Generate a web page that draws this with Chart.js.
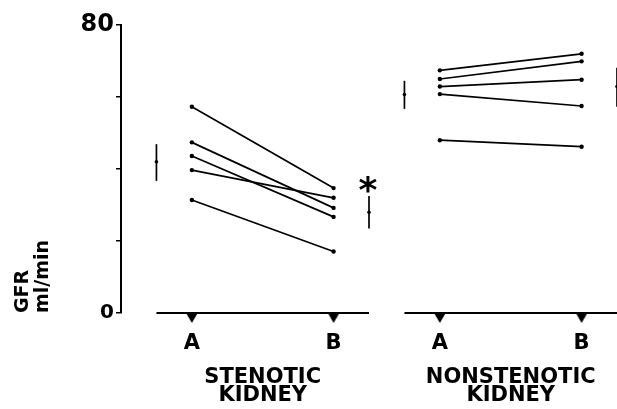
<!DOCTYPE html>
<html><head><meta charset="utf-8">
<script src="https://cdn.jsdelivr.net/npm/chart.js@4.4.1/dist/chart.umd.min.js"></script>
<style>html,body{margin:0;padding:0;background:#fff;} #wrap{width:617px;height:409px;}</style>
</head><body><div id="wrap"><canvas id="c" width="617" height="409"></canvas></div>
<script>
// ---- data (GFR, ml/min) ----
const periodLabels = ['A', 'B'];
const kidneyLabels = [['STENOTIC', 'KIDNEY'], ['NONSTENOTIC', 'KIDNEY']];
const yTickLabels = [0, 80];
const yAxisTitle = ['GFR', 'ml/min'];

const stenoticA = [57.3, 47.4, 43.6, 39.7, 31.4];
const stenoticB = [34.7, 29.2, 26.7, 32.0, 17.1];
const nonstenoticA = [67.4, 65.0, 62.9, 60.8, 48.0];
const nonstenoticB = [72.0, 69.9, 64.8, 57.5, 46.2];

// mean ± SE for period A and period B
const stenoticMean = [42.0, 28.0];
const stenoticLow = [36.7, 23.5];
const stenoticHigh = [46.9, 32.5];
const nonstenoticMean = [60.7, 62.9];
const nonstenoticLow = [56.7, 57.3];
const nonstenoticHigh = [64.5, 68.1];

const significance = ['*', '']; // marker beside period B mean, per kidney

// ---- layout (horizontal slots on a linear x scale) ----
const groups = [
  {a: stenoticA, b: stenoticB, mean: stenoticMean, low: stenoticLow, high: stenoticHigh, mA: 0, A: 1, B: 5, mB: 6, mid: 3},
  {a: nonstenoticA, b: nonstenoticB, mean: nonstenoticMean, low: nonstenoticLow, high: nonstenoticHigh, mA: 7, A: 8, B: 12, mB: 13, mid: 10}
];
const black = '#000';

function makeTriangle() {
  const c = document.createElement('canvas');
  const w = 14, h = 24;
  c.width = w; c.height = h;
  const g = c.getContext('2d');
  g.fillStyle = black;
  g.beginPath();
  g.moveTo(w / 2 - 5.8, h / 2);
  g.lineTo(w / 2 + 5.8, h / 2);
  g.lineTo(w / 2, h / 2 + 10);
  g.closePath();
  g.fill();
  return c;
}
const tri = makeTriangle();

const datasets = [];
const periodTicks = [];
const kidneyTicks = [];
groups.forEach((gr) => {
  datasets.push({data: [{x: gr.mA, y: 0}, {x: gr.mB, y: 0}], borderColor: black, borderWidth: 1.8, pointRadius: 0, clip: false});
  datasets.push({data: [{x: gr.A, y: 0}, {x: gr.B, y: 0}], showLine: false, pointStyle: tri, pointRadius: 7, clip: false});
  gr.a.forEach((v, i) => {
    datasets.push({data: [{x: gr.A, y: v}, {x: gr.B, y: gr.b[i]}], borderColor: black, borderWidth: 1.7,
      pointRadius: 2.2, pointBackgroundColor: black, pointBorderWidth: 0, clip: false});
  });
  [gr.mA, gr.mB].forEach((xp, k) => {
    datasets.push({data: [{x: xp, y: gr.low[k]}, {x: xp, y: gr.high[k]}], borderColor: black, borderWidth: 1.7, pointRadius: 0, clip: false});
    datasets.push({data: [{x: xp, y: gr.mean[k]}], showLine: false, pointRadius: 1.8, pointBackgroundColor: black, pointBorderWidth: 0, clip: false});
  });
  periodTicks.push({value: gr.A, label: periodLabels[0]}, {value: gr.B, label: periodLabels[1]});
  kidneyTicks.push({value: gr.mid});
});
datasets.forEach(d => { d.type = 'line'; d.xAxisID = 'x'; d.yAxisID = 'y'; });

const sigPlugin = {
  id: 'sig',
  afterDatasetsDraw(chart) {
    const {ctx} = chart;
    const x = chart.scales.x, y = chart.scales.y;
    ctx.save();
    ctx.font = 'bold 36px "DejaVu Sans"';
    ctx.fillStyle = black;
    ctx.textAlign = 'center';
    ctx.textBaseline = 'alphabetic';
    significance.forEach((s, i) => {
      if (!s) return;
      const gr = groups[i];
      const px = x.getPixelForValue(gr.mB) - 1;
      const top = y.getPixelForValue(gr.high[1]);
      const m = ctx.measureText(s);
      const cy = top - 12;
      ctx.fillText(s, px, cy + (m.actualBoundingBoxAscent - m.actualBoundingBoxDescent) / 2);
    });
    ctx.restore();
  }
};

function noPad(s) { s.paddingLeft = 0; s.paddingRight = 0; }

new Chart(document.getElementById('c'), {
  type: 'line',
  data: {datasets},
  plugins: [sigPlugin],
  options: {
    responsive: false,
    animation: false,
    layout: {autoPadding: false, padding: {top: 25, right: 0, bottom: 0, left: 0}},
    plugins: {legend: {display: false}, tooltip: {enabled: false}},
    scales: {
      x: {
        type: 'linear', min: -1, max: 13, position: 'bottom', weight: 0,
        afterBuildTicks: s => { s.ticks = periodTicks.map(t => ({value: t.value})); },
        ticks: {
          callback: (v, i) => periodTicks[i] ? periodTicks[i].label : '',
          autoSkip: false, maxRotation: 0, color: black, padding: 18,
          font: {family: 'DejaVu Sans', weight: 'bold', size: 21}
        },
        grid: {display: false, drawTicks: false},
        border: {display: false},
        afterFit: s => { s.height = 40; noPad(s); }
      },
      x2: {
        type: 'linear', min: -1, max: 13, position: 'bottom', weight: 1,
        afterBuildTicks: s => { s.ticks = kidneyTicks.map(t => ({value: t.value})); },
        ticks: {
          callback: (v, i) => kidneyLabels[i],
          autoSkip: false, maxRotation: 0, color: black, padding: 16,
          font: {family: 'DejaVu Sans', weight: 'bold', size: 21, lineHeight: 0.84}
        },
        grid: {display: false, drawTicks: false},
        border: {display: false},
        afterFit: s => { s.height = 56; noPad(s); }
      },
      y: {
        type: 'linear', min: 0, max: 80,
        ticks: {
          stepSize: 20, color: black, padding: 2,
          callback: v => yTickLabels.includes(v) ? String(v) : '',
          font: ctx => ({family: 'DejaVu Sans', weight: 'bold', size: (ctx.tick && ctx.tick.value === 80) ? 24 : 20})
        },
        grid: {drawOnChartArea: false, tickLength: 5, color: black, lineWidth: 1.5},
        border: {display: true, color: black, width: 2},
        title: {
          display: true, text: yAxisTitle, align: 'start', color: black,
          font: {family: 'DejaVu Sans', weight: 'bold', size: 19, lineHeight: 1.05},
          padding: {top: 13.5, bottom: 0}
        },
        afterFit: s => { s.width = 121; }
      }
    }
  }
});
</script>
</body></html>
